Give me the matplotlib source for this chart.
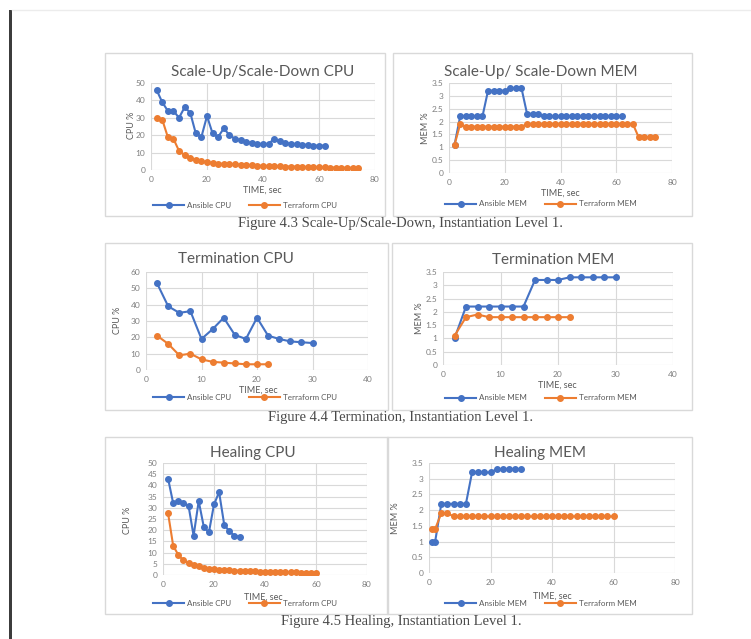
import matplotlib
matplotlib.use("Agg")
import matplotlib.pyplot as plt
from matplotlib.patches import Rectangle

W, H = 751, 639

# time grids (sec)
sc_t_ans = list(range(2, 64, 2))
sc_t_ter = list(range(2, 76, 2))
tm_t_ans = list(range(2, 32, 2))
tm_t_ter = list(range(2, 24, 2))
hl_t_cpu_ans = list(range(2, 32, 2))
hl_t_cpu_ter = list(range(2, 62, 2))
hl_t_mem_ans = [1] + list(range(2, 32, 2))
hl_t_mem_ter = [1] + list(range(2, 62, 2))

# Figure 4.3 scale-up / scale-down
sc_cpu_ans = [46, 39, 34, 34, 30, 36, 33, 21, 19, 31, 21, 19, 24, 20, 18, 17, 16, 15.5,
              15, 15, 15, 18, 16.5, 15.5, 15, 15, 14.5, 14.5, 14, 14, 14]
sc_cpu_ter = [30, 29, 19, 18, 11, 8.5, 7, 6, 5, 4.5, 4, 3.7, 3.5, 3.3, 3.2, 3, 2.8, 2.7, 2.5,
              2.4, 2.3, 2.2, 2.1, 2, 2, 1.9, 1.8, 1.7, 1.6, 1.5, 1.5, 1.4, 1.4, 1.3, 1.3, 1.2, 1.2]
sc_mem_ans = [1.1, 2.2, 2.2, 2.2, 2.2, 2.2, 3.2, 3.2, 3.2, 3.2, 3.3, 3.3, 3.3, 2.3, 2.3, 2.3,
              2.2, 2.2, 2.2, 2.2, 2.2, 2.2, 2.2, 2.2, 2.2, 2.2, 2.2, 2.2, 2.2, 2.2, 2.2]
sc_mem_ter = [1.1, 1.9, 1.8, 1.8, 1.8, 1.8, 1.8, 1.8, 1.8, 1.8, 1.8, 1.8, 1.8,
              1.9, 1.9, 1.9, 1.9, 1.9, 1.9, 1.9, 1.9, 1.9, 1.9, 1.9, 1.9, 1.9, 1.9, 1.9, 1.9,
              1.9, 1.9, 1.9, 1.9, 1.4, 1.4, 1.4, 1.4]

# Figure 4.4 termination
tm_cpu_ans = [53, 39, 35, 36, 19, 25, 32, 21.5, 19, 32, 21, 19, 17.5, 17, 16.5]
tm_cpu_ter = [21, 16, 9, 10, 6.5, 5, 4.5, 4, 3.5, 3.5, 3.5]
tm_mem_ans = [1.0, 2.2, 2.2, 2.2, 2.2, 2.2, 2.2, 3.2, 3.2, 3.2, 3.3, 3.3, 3.3, 3.3, 3.3]
tm_mem_ter = [1.1, 1.8, 1.9, 1.8, 1.8, 1.8, 1.8, 1.8, 1.8, 1.8, 1.8]

# Figure 4.5 healing
hl_cpu_ans = [43, 32, 33, 32, 31, 17.5, 33, 21.5, 19, 31.5, 37, 22.5, 19.5, 17.5, 17]
hl_cpu_ter = [27.5, 13, 9, 6.5, 5.5, 4.5, 3.8, 3.3, 2.8, 2.5, 2.3, 2.2, 2.1, 2, 1.9,
              1.8, 1.7, 1.6, 1.5, 1.5, 1.4, 1.4, 1.3, 1.3, 1.2, 1.2, 1.1, 1.1, 1, 1]
hl_mem_ans = [1.0, 1.0, 2.2, 2.2, 2.2, 2.2, 2.2, 3.2, 3.2, 3.2, 3.2, 3.3, 3.3, 3.3, 3.3, 3.3]
hl_mem_ter = [1.4, 1.4, 1.9, 1.9] + [1.8] * 27

BLUE = "#4472c4"
ORANGE = "#ed7d31"
GREY = "#595959"
FONT = "Lato"


def rect(x0, y0, x1, y1):
    return [x0 / W, 1 - y1 / H, (x1 - x0) / W, (y1 - y0) / H]


def fx(x):
    return x / W


def fy(y):
    return 1 - y / H


fig = plt.figure(figsize=(W / 100, H / 100), dpi=100)
fig.patch.set_facecolor("white")

# page decoration: dark left bar, faint top rule
fig.add_artist(Rectangle((fx(9), 0), fx(3), fy(10), transform=fig.transFigure,
                         color="#3c3c3c", lw=0))
fig.add_artist(plt.Line2D([fx(12), 1], [fy(10), fy(10)], transform=fig.transFigure,
                          color="#ececec", lw=1))


def panel(box, area, title, tpos, xs, ys, labels, xlim, xticks, ylim, yticks, ytl,
          ylab, ylpos, xlpos, legpos):
    x0, y0, x1, y1 = box
    fig.add_artist(Rectangle((fx(x0), fy(y1)), fx(x1 - x0), (y1 - y0) / H,
                             transform=fig.transFigure, fill=False,
                             edgecolor="#d9d9d9", lw=1))
    ax = fig.add_axes(rect(*area))
    handles = []
    for (x, y), lab, c in zip(zip(xs, ys), labels, [BLUE, ORANGE]):
        h, = ax.plot(x, y, color=c, marker="o", ms=4, lw=1.5, label=lab)
        handles.append(h)
    ax.set_xlim(*xlim)
    ax.set_ylim(*ylim)
    ax.set_xticks(xticks)
    ax.set_yticks(yticks)
    ax.set_yticklabels(ytl)
    ax.grid(True, color="#d9d9d9", lw=0.8)
    ax.set_axisbelow(True)
    for s in ax.spines.values():
        s.set_visible(False)
    ax.tick_params(length=0, labelsize=6, labelcolor="#7f7f7f", pad=4)
    for t in ax.get_xticklabels() + ax.get_yticklabels():
        t.set_fontfamily(FONT)
    fig.text(fx(tpos[0]), fy(tpos[1]), title, ha="center", va="center",
             fontsize=11, color=GREY, family=FONT)
    fig.text(fx(ylpos[0]), fy(ylpos[1]), ylab, ha="center", va="center",
             rotation=90, fontsize=6.5, color=GREY, family=FONT)
    fig.text(fx(xlpos[0]), fy(xlpos[1]), "TIME, sec", ha="center", va="center",
             fontsize=6.5, color=GREY, family=FONT)
    leg = fig.legend(handles=handles, loc="center", bbox_to_anchor=(fx(legpos[0]), fy(legpos[1])),
                     ncol=2, frameon=False, handlelength=3.8,
                     columnspacing=2.2, handletextpad=0.4, borderpad=0,
                     prop={"family": FONT, "size": 5.8})
    for t in leg.get_texts():
        t.set_color(GREY)
    return ax


mem_ticks = [0, 0.5, 1, 1.5, 2, 2.5, 3, 3.5]
mem_tl = ["0", "0.5", "1", "1.5", "2", "2.5", "3", "3.5"]

panel((105, 53, 385, 216), (151, 83, 375, 170), "Scale-Up/Scale-Down CPU", (263, 72),
      [sc_t_ans, sc_t_ter], [sc_cpu_ans, sc_cpu_ter], ["Ansible CPU", "Terraform CPU"],
      (0, 80), [0, 20, 40, 60, 80], (0, 50), [0, 10, 20, 30, 40, 50],
      ["0", "10", "20", "30", "40", "50"], "CPU %", (131, 125), (262, 190), (245, 205))

panel((393, 53, 692, 216), (449, 83, 672, 173), "Scale-Up/ Scale-Down MEM", (541, 72),
      [sc_t_ans, sc_t_ter], [sc_mem_ans, sc_mem_ter], ["Ansible MEM", "Terraform MEM"],
      (0, 80), [0, 20, 40, 60, 80], (0, 3.5), mem_ticks, mem_tl,
      "MEM %", (425, 128), (560, 193), (541, 204))

panel((105, 243, 388, 410), (146, 272, 368, 370), "Termination CPU", (236, 259),
      [tm_t_ans, tm_t_ter], [tm_cpu_ans, tm_cpu_ter], ["Ansible CPU", "Terraform CPU"],
      (0, 40), [0, 10, 20, 30, 40], (0, 60), [0, 10, 20, 30, 40, 50, 60],
      ["0", "10", "20", "30", "40", "50", "60"], "CPU %", (117, 320), (258, 390), (245, 397))

panel((392, 243, 692, 410), (443, 272, 673, 365), "Termination MEM", (553, 260),
      [tm_t_ans, tm_t_ter], [tm_mem_ans, tm_mem_ter], ["Ansible MEM", "Terraform MEM"],
      (0, 40), [0, 10, 20, 30, 40], (0, 3.5), mem_ticks, mem_tl,
      "MEM %", (419, 318), (557, 385), (541, 398))

panel((105, 437, 388, 614), (163, 463, 367, 575), "Healing CPU", (253, 453),
      [hl_t_cpu_ans, hl_t_cpu_ter], [hl_cpu_ans, hl_cpu_ter], ["Ansible CPU", "Terraform CPU"],
      (0, 80), [0, 20, 40, 60, 80], (0, 50), list(range(0, 55, 5)),
      [str(v) for v in range(0, 55, 5)], "CPU %", (127, 520), (263, 597), (245, 603))

panel((387, 437, 692, 614), (429, 463, 675, 573), "Healing MEM", (540, 453),
      [hl_t_mem_ans, hl_t_mem_ter], [hl_mem_ans, hl_mem_ter], ["Ansible MEM", "Terraform MEM"],
      (0, 80), [0, 20, 40, 60, 80], (0, 3.5), mem_ticks, mem_tl,
      "MEM %", (396, 518), (552, 596), (541, 603))

# captions
caps = [("Figure 4.3 Scale-Up/Scale-Down, Instantiation Level 1.", 224),
        ("Figure 4.4 Termination, Instantiation Level 1.", 417),
        ("Figure 4.5 Healing, Instantiation Level 1.", 621)]
for txt, y in caps:
    fig.text(fx(401), fy(y), txt, ha="center", va="center", fontsize=10.5,
             color="#4a4a4a", family="Liberation Serif")

fig.savefig("out.png", dpi=100)
